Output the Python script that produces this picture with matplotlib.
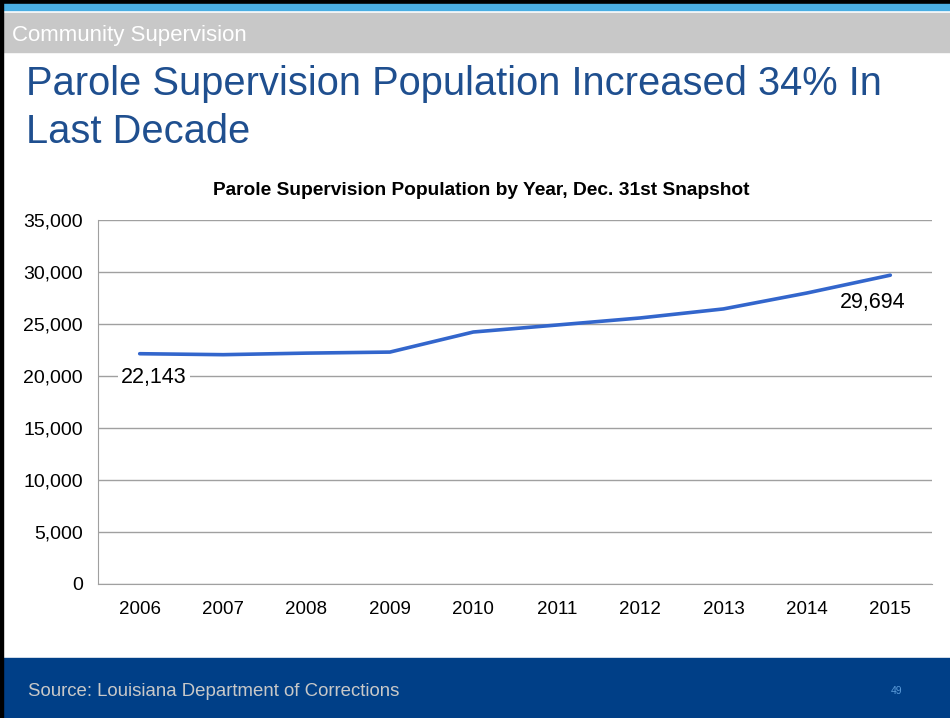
import matplotlib.pyplot as plt
from matplotlib.patches import Rectangle
from matplotlib.ticker import FuncFormatter

years = ["2006", "2007", "2008", "2009", "2010", "2011", "2012", "2013", "2014", "2015"]
population = [22143, 22050, 22200, 22300, 24230, 24900, 25580, 26450, 27980, 29694]
y_ticks = [0, 5000, 10000, 15000, 20000, 25000, 30000, 35000]

W, H = 950, 718
plt.rcParams['font.family'] = ['Liberation Sans', 'DejaVu Sans']

fig = plt.figure(figsize=(W / 100, H / 100), dpi=100)


def px(x, y):
    # pixel position (from top-left) to figure fraction
    return x / W, 1 - y / H


def band(x0, y0, x1, y1, color):
    fx, fy = px(x0, y1)
    fig.patches.append(Rectangle((fx, fy), (x1 - x0) / W, (y1 - y0) / H,
                                 transform=fig.transFigure, color=color, zorder=0))


# slide frame
band(0, 0, W, 4, "#000000")
band(0, 4, W, 10, "#4aaee3")
band(0, 13, W, 52, "#c8c8c8")
band(0, 658, W, H, "#003f87")
band(0, 0, 3, H, "#000000")

fig.text(*px(12, 36), "Community Supervision", color="white", fontsize=16, va="center")
fig.text(*px(26, 84), "Parole Supervision Population Increased 34% In", color="#1f4f8f",
         fontsize=28.7, va="center")
fig.text(*px(26, 132), "Last Decade", color="#1f4f8f", fontsize=28.7, va="center")
fig.text(*px(28, 692), "Source: Louisiana Department of Corrections", color="#c8c8c8",
         fontsize=13.4, va="center")
fig.text(*px(897, 691), "49", color="#5a9ad8", fontsize=7.5, va="center", ha="center")

# chart area
left, right, top, bottom = 98, 932, 220, 584
ax = fig.add_axes([left / W, 1 - bottom / H, (right - left) / W, (bottom - top) / H])
x = list(range(len(years)))
ax.plot(x, population, color="#3366cc", linewidth=2.6, solid_capstyle="round", zorder=3)
ax.set_xlim(-0.5, len(years) - 0.5)
ax.set_ylim(0, 35000)
ax.set_yticks(y_ticks)
ax.yaxis.set_major_formatter(FuncFormatter(lambda v, p: f"{int(v):,}"))
ax.set_xticks(x)
ax.set_xticklabels(years)
ax.grid(axis="y", color="#a0a0a0", linewidth=1)
ax.set_axisbelow(True)
for s in ["top", "right"]:
    ax.spines[s].set_visible(False)
ax.spines["left"].set_color("#a0a0a0")
ax.spines["bottom"].set_color("#a0a0a0")
ax.tick_params(axis="both", length=0, colors="black")
ax.tick_params(axis="y", pad=11, labelsize=14)
ax.tick_params(axis="x", pad=12, labelsize=13.5)

ax.set_title("Parole Supervision Population by Year, Dec. 31st Snapshot",
             fontsize=13.8, fontweight="bold", pad=18, x=0.459)

# first and last values
ax.annotate(f"{population[0]:,}", (x[0], population[0]), xytext=(10, -17),
            textcoords="offset points", ha="center", va="center", fontsize=15.5,
            bbox=dict(boxstyle="square,pad=0.15", fc="white", ec="none"), zorder=4)
ax.annotate(f"{population[-1]:,}", (x[-1], population[-1]), xytext=(-13, -20),
            textcoords="offset points", ha="center", va="center", fontsize=15.5, zorder=4)

fig.savefig("out.png", dpi=100)
